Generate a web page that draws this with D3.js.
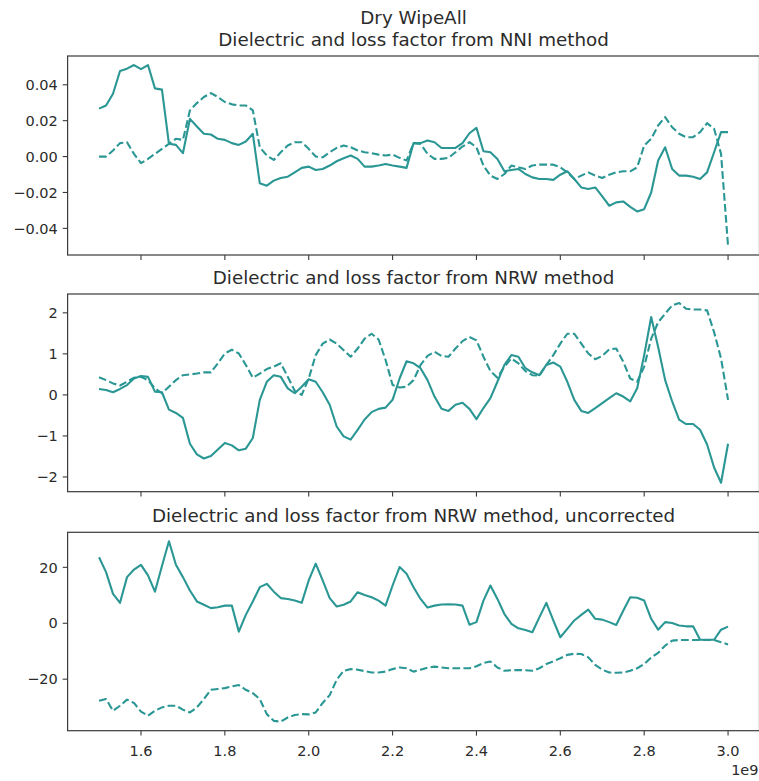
<!DOCTYPE html>
<html>
<head>
<meta charset="utf-8">
<script src="https://cdn.jsdelivr.net/npm/d3@7"></script>
<style>
  body { margin: 0; background: #fff; }
  text { font-family: "DejaVu Sans", sans-serif; fill: #2b2b2b; }
</style>
</head>
<body>
<svg id="drawsvg" width="759" height="781"></svg>
<script>
// frequency, GHz (axis shows 1e9 offset)
var freq = [
  1.5, 1.5167, 1.5333, 1.55, 1.5667, 1.5833,
  1.6, 1.6167, 1.6333, 1.65, 1.6667, 1.6833,
  1.7, 1.7167, 1.7333, 1.75, 1.7667, 1.7833,
  1.8, 1.8167, 1.8333, 1.85, 1.8667, 1.8833,
  1.9, 1.9167, 1.9333, 1.95, 1.9667, 1.9833,
  2.0, 2.0167, 2.0333, 2.05, 2.0667, 2.0833,
  2.1, 2.1167, 2.1333, 2.15, 2.1667, 2.1833,
  2.2, 2.2167, 2.2333, 2.25, 2.2667, 2.2833,
  2.3, 2.3167, 2.3333, 2.35, 2.3667, 2.3833,
  2.4, 2.4167, 2.4333, 2.45, 2.4667, 2.4833,
  2.5, 2.5167, 2.5333, 2.55, 2.5667, 2.5833,
  2.6, 2.6167, 2.6333, 2.65, 2.6667, 2.6833,
  2.7, 2.7167, 2.7333, 2.75, 2.7667, 2.7833,
  2.8, 2.8167, 2.8333, 2.85, 2.8667, 2.8833,
  2.9, 2.9167, 2.9333, 2.95, 2.9667, 2.9833,
  3.0
];

// NNI method
var nniSolid = [
  0.0267, 0.0285, 0.035, 0.0477, 0.049, 0.051, 0.0487, 0.051, 0.038, 0.0373,
  0.0071, 0.0065, 0.0019, 0.021, 0.0168, 0.0127, 0.0123, 0.0099, 0.0093, 0.0075,
  0.0065, 0.0084, 0.0127, -0.0149, -0.0162, -0.0134, -0.0119, -0.0112, -0.0088, -0.0063,
  -0.0056, -0.0075, -0.0069, -0.005, -0.0026, -0.0009, 0.0006, -0.0013, -0.0056, -0.0056,
  -0.005, -0.0041, -0.005, -0.0056, -0.0063, 0.0075, 0.0075, 0.009, 0.008, 0.0048,
  0.0048, 0.0048, 0.0075, 0.013, 0.016, 0.003, 0.0024, -0.0013, -0.0082, -0.0075,
  -0.0069, -0.0097, -0.0116, -0.0125, -0.0125, -0.013, -0.0101, -0.0082, -0.0125, -0.0172,
  -0.0181, -0.0172, -0.0222, -0.0274, -0.0255, -0.025, -0.028, -0.0306, -0.0293, -0.02,
  -0.0022, 0.0052, -0.0069, -0.0106, -0.0106, -0.0112, -0.0125, -0.0088, 0.0024, 0.0136,
  0.0136
];
var nniDashed = [
  0.0, 0.0, 0.0034, 0.0075, 0.008, 0.0015, -0.0037, -0.0013, 0.0015, 0.0043,
  0.0071, 0.0099, 0.0093, 0.0257, 0.0298, 0.0332, 0.0354, 0.0332, 0.0304, 0.0291,
  0.0285, 0.0285, 0.0257, 0.0052, 0.0006, -0.0019, 0.0024, 0.0062, 0.008, 0.008,
  0.0043, 0.0, -0.0004, 0.0024, 0.0048, 0.0062, 0.0052, 0.0034, 0.0024, 0.0019,
  0.0011, 0.0006, 0.0011, -0.0007, -0.0022, 0.0075, 0.0071, 0.0015, -0.0013, -0.0013,
  -0.0007, 0.0024, 0.0056, 0.008, 0.0052, -0.005, -0.0106, -0.0125, -0.0097, -0.005,
  -0.006, -0.0069, -0.005, -0.0045, -0.0045, -0.0045, -0.006, -0.0088, -0.0125, -0.0106,
  -0.0088, -0.0106, -0.0119, -0.0101, -0.0088, -0.0082, -0.0082, -0.006, 0.0062, 0.0099,
  0.0173, 0.022, 0.0164, 0.0127, 0.0108, 0.0108, 0.0136, 0.0186, 0.0155, 0.0015,
  -0.0498
];

// NRW method
var nrwSolid = [
  0.145, 0.12, 0.065, 0.145, 0.24, 0.4, 0.46, 0.44, 0.08, 0.065,
  -0.36, -0.44, -0.56, -1.19, -1.45, -1.55, -1.49, -1.33, -1.17, -1.23,
  -1.35, -1.31, -1.05, -0.12, 0.32, 0.48, 0.44, 0.16, 0.04, 0.2,
  0.38, 0.32, 0.065, -0.24, -0.77, -1.01, -1.09, -0.85, -0.6, -0.42,
  -0.34, -0.31, -0.12, 0.4, 0.82, 0.77, 0.65, 0.36, -0.04, -0.34,
  -0.39, -0.24, -0.19, -0.34, -0.59, -0.32, -0.08, 0.32, 0.73, 0.97,
  0.93, 0.65, 0.55, 0.48, 0.73, 0.79, 0.69, 0.32, -0.12, -0.39,
  -0.44, -0.32, -0.2, -0.08, 0.04, -0.04, -0.16, 0.16, 0.97, 1.9,
  1.17, 0.36, -0.16, -0.6, -0.71, -0.71, -0.85, -1.21, -1.77, -2.14,
  -1.19
];
var nrwDashed = [
  0.43, 0.36, 0.28, 0.23, 0.32, 0.42, 0.44, 0.36, 0.16, 0.04,
  0.2, 0.36, 0.48, 0.5, 0.52, 0.55, 0.55, 0.77, 1.01, 1.1,
  1.01, 0.73, 0.42, 0.52, 0.63, 0.69, 0.77, 0.44, 0.1, 0.0,
  0.4, 0.97, 1.25, 1.35, 1.25, 1.09, 0.93, 1.13, 1.37, 1.49,
  1.35, 0.85, 0.24, 0.18, 0.2, 0.36, 0.73, 0.95, 1.05, 0.95,
  0.93, 1.13, 1.31, 1.41, 1.33, 0.93, 0.58, 0.42, 0.69, 0.89,
  0.77, 0.58, 0.48, 0.47, 0.73, 0.97, 1.25, 1.49, 1.49, 1.25,
  1.01, 0.87, 0.95, 1.11, 1.13, 0.81, 0.4, 0.32, 0.69, 1.37,
  1.77, 1.98, 2.18, 2.24, 2.1, 2.08, 2.08, 2.06, 1.53, 0.89,
  -0.12
];

// NRW method, uncorrected
var rawSolid = [
  23.6, 18.3, 10.5, 7.3, 16.5, 19.2, 20.9, 17.1, 11.3, 20.5,
  29.3, 20.9, 16.5, 11.7, 7.8, 6.6, 5.4, 5.7, 6.3, 6.3,
  -3.0, 3.0, 7.8, 12.9, 14.1, 11.3, 9.0, 8.7, 8.1, 7.3,
  15.3, 21.3, 15.3, 9.0, 6.0, 6.6, 7.8, 11.1, 10.1, 9.3,
  8.1, 6.3, 13.5, 20.1, 17.7, 12.9, 8.7, 5.6, 6.3, 6.7,
  6.8, 6.7, 6.3, -0.5, 0.4, 8.1, 13.5, 8.7, 3.3, -0.2,
  -1.8, -2.4, -3.2, 2.1, 7.3, 1.0, -5.0, -2.0, 1.0, 3.0,
  4.9, 1.6, 1.3, 0.4, -0.6, 4.5, 9.3, 9.1, 8.1, 1.6,
  -2.3, 0.4, 0.1, -0.8, -1.1, -1.1, -5.9, -5.9, -5.9, -2.3,
  -1.2
];
var rawDashed = [
  -27.7, -27.1, -31.3, -29.5, -27.3, -28.5, -31.6, -33.1, -31.3, -30.1,
  -29.5, -29.5, -30.9, -31.9, -30.1, -27.1, -23.8, -23.5, -23.2, -22.6,
  -22.1, -23.8, -25.0, -27.1, -32.5, -34.9, -35.2, -33.7, -32.8, -32.5,
  -32.6, -31.9, -28.5, -25.7, -20.2, -17.0, -16.4, -16.6, -17.1, -17.6,
  -17.6, -17.3, -16.4, -15.8, -16.1, -17.3, -16.6, -15.9, -15.5, -15.8,
  -16.1, -16.1, -16.1, -16.1, -15.4, -14.2, -13.7, -15.8, -17.0, -16.8,
  -16.7, -16.8, -17.0, -16.1, -14.6, -13.6, -12.5, -11.3, -10.9, -11.0,
  -12.2, -14.9, -16.6, -17.6, -17.7, -17.6, -17.0, -16.1, -14.6, -12.2,
  -10.6, -8.0, -6.2, -6.0, -6.0, -6.0, -6.0, -6.0, -6.0, -6.8,
  -7.6
];

var suptitle = 'Dry WipeAll';
var titles = [
  'Dielectric and loss factor from NNI method',
  'Dielectric and loss factor from NRW method',
  'Dielectric and loss factor from NRW method, uncorrected'
];
var xTicks = [1.6, 1.8, 2.0, 2.2, 2.4, 2.6, 2.8, 3.0];
var nniTicks = [-0.04, -0.02, 0.0, 0.02, 0.04];
var nrwTicks = [-2, -1, 0, 1, 2];
var rawTicks = [-20, 0, 20];

var lineColor = '#2a9794';
var axisLeft = 67.6, axisRight = 759.5;
var tickLen = 4.9, tickPad = 4.9;
var titleSize = 18.3;

var svg = d3.select('#drawsvg');

var xScale = d3.scaleLinear()
  .domain([1.425, 3.075])
  .range([axisLeft, axisRight]);

function paddedDomain(a, b){
  var ext = d3.extent(a.concat(b));
  var m = (ext[1] - ext[0]) * 0.05;
  return [ext[0] - m, ext[1] + m];
}

function drawPanel(top, bottom, solid, dashed, ticks, fmt, title, showX){
  var g = svg.append('g');

  var yScale = d3.scaleLinear()
    .domain(paddedDomain(solid, dashed))
    .range([bottom, top]);

  var line = d3.line()
    .x(function(d, i){ return xScale(freq[i]); })
    .y(function(d){ return yScale(d); });

  g.append('path')
   .datum(solid)
   .attr('d', line)
   .style('fill', 'none')
   .style('stroke', lineColor)
   .style('stroke-width', 2.1)
   .style('stroke-linejoin', 'round')
   .style('stroke-linecap', 'butt');

  g.append('path')
   .datum(dashed)
   .attr('d', line)
   .style('fill', 'none')
   .style('stroke', lineColor)
   .style('stroke-width', 2.1)
   .style('stroke-dasharray', '7.7 3.3')
   .style('stroke-linejoin', 'round');

  // frame
  g.append('rect')
   .attr('x', axisLeft)
   .attr('y', top)
   .attr('width', axisRight - axisLeft)
   .attr('height', bottom - top)
   .style('fill', 'none')
   .style('stroke', '#3a3a3a')
   .style('stroke-width', 1.2);

  // y ticks
  var yt = g.selectAll('.ytick').data(ticks).enter().append('g')
    .attr('transform', function(d){ return 'translate(0,' + yScale(d) + ')'; });
  yt.append('line')
    .attr('x1', axisLeft - tickLen).attr('x2', axisLeft)
    .style('stroke', '#3a3a3a').style('stroke-width', 1.1);
  yt.append('text')
    .text(function(d){ return fmt(d); })
    .attr('x', axisLeft - tickLen - tickPad)
    .attr('dy', '0.36em')
    .attr('text-anchor', 'end')
    .style('font-size', '14.5px');

  // x ticks
  var xt = g.selectAll('.xtick').data(xTicks).enter().append('g')
    .attr('transform', function(d){ return 'translate(' + xScale(d) + ',' + bottom + ')'; });
  xt.append('line')
    .attr('y1', 0).attr('y2', tickLen)
    .style('stroke', '#3a3a3a').style('stroke-width', 1.1);
  if(showX){
    xt.append('text')
      .text(function(d){ return d3.format('.1f')(d); })
      .attr('y', 25)
      .attr('text-anchor', 'middle')
      .style('font-size', '14.5px');
    g.append('text')
      .text('1e9')
      .attr('x', axisRight - 1)
      .attr('y', bottom + 44)
      .attr('text-anchor', 'end')
      .style('font-size', '14.5px');
  }

  g.append('text')
   .text(title)
   .attr('x', (axisLeft + axisRight) / 2)
   .attr('y', top - 10.5)
   .attr('text-anchor', 'middle')
   .style('font-size', titleSize + 'px');
}

drawPanel(56, 255, nniSolid, nniDashed, nniTicks, d3.format('.2f'), titles[0], false);
drawPanel(294, 491.7, nrwSolid, nrwDashed, nrwTicks, d3.format('d'), titles[1], false);
drawPanel(532.3, 730.7, rawSolid, rawDashed, rawTicks, d3.format('d'), titles[2], true);

svg.append('text')
  .text(suptitle)
  .attr('x', (axisLeft + axisRight) / 2)
  .attr('y', 56 - 10.5 - 21.2)
  .attr('text-anchor', 'middle')
  .style('font-size', titleSize + 'px');
</script>
</body>
</html>
